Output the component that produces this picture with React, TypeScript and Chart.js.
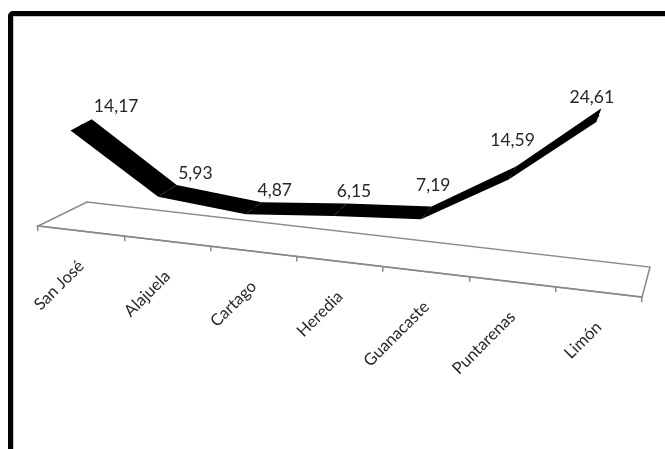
import React, { useEffect, useRef } from 'react';
import { Chart, registerables } from 'chart.js';

Chart.register(...registerables);

// ---- data ----
const categories = ['San José', 'Alajuela', 'Cartago', 'Heredia', 'Guanacaste', 'Puntarenas', 'Limón'];
const values = [14.17, 5.93, 4.87, 6.15, 7.19, 14.59, 24.61];
const yMin = -1.5;
const yMax = 28;

// ---- styling (3D look emulation) ----
const SHEAR = 0.118; // floor slope
const DEPTH_LEFT = [49, -29.8]; // floor depth vector at left end (unsheared frame)
const DEPTH_RIGHT = [8, -31.2]; // floor depth vector at right end
const RIBBON_FRAC = 0.46;
const FLOOR_COLOR = '#8a8a8a';
const TEXT_COLOR = '#262626';
const FONT = 'Lato';
const TICK_FONT_SIZE = 16.5;
const LABEL_ROTATION = 45;

const fmt = (v: number) => v.toFixed(2).replace('.', ',');

export default function App() {
  const ref = useRef<HTMLCanvasElement | null>(null);

  useEffect(() => {
    if (!ref.current) return;

    const depthAt = (chart: any, x: number) => {
      const xs = chart.scales.x;
      const t = (x - xs.left) / (xs.right - xs.left);
      return [
        DEPTH_LEFT[0] + (DEPTH_RIGHT[0] - DEPTH_LEFT[0]) * t,
        DEPTH_LEFT[1] + (DEPTH_RIGHT[1] - DEPTH_LEFT[1]) * t,
      ];
    };

    const shearPlugin = {
      id: 'shear3d',
      beforeDraw(chart: any) {
        const ctx = chart.ctx;
        ctx.save();
        ctx.transform(1, SHEAR, 0, 1, 0, -SHEAR * chart.chartArea.left);
      },
      beforeDatasetsDraw(chart: any) {
        const ctx = chart.ctx;
        const xs = chart.scales.x;
        const b = chart.chartArea.bottom;
        const L = xs.left;
        const R = xs.right;
        // floor
        ctx.save();
        ctx.strokeStyle = FLOOR_COLOR;
        ctx.lineWidth = 1.5;
        ctx.beginPath();
        ctx.moveTo(L, b);
        ctx.lineTo(R, b);
        ctx.lineTo(R + DEPTH_RIGHT[0], b + DEPTH_RIGHT[1]);
        ctx.lineTo(L + DEPTH_LEFT[0], b + DEPTH_LEFT[1]);
        ctx.closePath();
        ctx.stroke();
        ctx.restore();
        // ribbon (depth of the 3D line)
        const meta = chart.getDatasetMeta(0);
        const pts = meta.data.map((p: any) => ({ x: p.x, y: p.y }));
        const front = pts.map((p: any) => {
          const d = depthAt(chart, p.x);
          return [p.x - (d[0] * RIBBON_FRAC) / 2, p.y - (d[1] * RIBBON_FRAC) / 2];
        });
        const back = pts.map((p: any) => {
          const d = depthAt(chart, p.x);
          return [p.x + (d[0] * RIBBON_FRAC) / 2, p.y + (d[1] * RIBBON_FRAC) / 2];
        });
        ctx.save();
        ctx.fillStyle = '#000';
        for (let i = 0; i < pts.length - 1; i++) {
          ctx.beginPath();
          ctx.moveTo(front[i][0], front[i][1]);
          ctx.lineTo(front[i + 1][0], front[i + 1][1]);
          ctx.lineTo(back[i + 1][0], back[i + 1][1]);
          ctx.lineTo(back[i][0], back[i][1]);
          ctx.closePath();
          ctx.fill();
        }
        ctx.restore();
      },
      afterDraw(chart: any) {
        const ctx = chart.ctx;
        ctx.restore();
        const x0 = chart.chartArea.left;
        const xs = chart.scales.x;

        // category labels: positions from the x axis, drawn upright (not sheared)
        const items = xs.getLabelItems(chart.chartArea);
        ctx.save();
        ctx.fillStyle = TEXT_COLOR;
        ctx.font = `${TICK_FONT_SIZE}px ${FONT}`;
        ctx.textAlign = 'right';
        ctx.textBaseline = 'middle';
        items.forEach((item: any) => {
          const [tx, ty] = item.options.translation;
          ctx.save();
          ctx.translate(tx, ty + SHEAR * (tx - x0));
          ctx.rotate((-LABEL_ROTATION * Math.PI) / 180);
          ctx.fillText(String(item.label), 0, item.textOffset);
          ctx.restore();
        });
        ctx.restore();

        // data labels (lifted a bit more where the line rises afterwards)
        const meta = chart.getDatasetMeta(0);
        const sp = meta.data.map((p: any) => ({ x: p.x, y: p.y + SHEAR * (p.x - x0) }));
        ctx.save();
        ctx.fillStyle = TEXT_COLOR;
        ctx.font = `17.5px ${FONT}`;
        ctx.textAlign = 'center';
        ctx.textBaseline = 'middle';
        sp.forEach((p: any, i: number) => {
          const next = sp[i + 1];
          const rise = next ? Math.max(0, p.y - next.y) : 0;
          ctx.fillText(fmt(values[i]), p.x + 35 - 7 * i, p.y - 18 - 0.25 * rise);
        });
        ctx.restore();
      },
    };

    const chart = new Chart(ref.current, {
      type: 'line',
      data: {
        labels: categories,
        datasets: [
          {
            data: values,
            borderColor: '#000',
            borderWidth: 2,
            pointRadius: 0,
            tension: 0,
            clip: false as any,
          },
        ],
      },
      options: {
        responsive: false,
        animation: false,
        events: [],
        layout: { padding: { top: 26, bottom: 123, left: 38, right: 23 } },
        plugins: { legend: { display: false }, tooltip: { enabled: false } },
        scales: {
          x: {
            type: 'category',
            offset: true,
            grid: {
              display: true,
              offset: true,
              drawOnChartArea: false,
              drawTicks: true,
              tickLength: 5,
              color: FLOOR_COLOR,
              lineWidth: 1.5,
            },
            border: { display: true, color: FLOOR_COLOR, width: 1.5 },
            ticks: {
              autoSkip: false,
              minRotation: LABEL_ROTATION,
              maxRotation: LABEL_ROTATION,
              padding: 21,
              color: 'rgba(0,0,0,0)',
              font: { family: FONT, size: TICK_FONT_SIZE },
            },
            afterFit: (scale: any) => {
              scale.height = 100;
            },
          },
          y: {
            display: false,
            min: yMin,
            max: yMax,
          },
        },
      },
      plugins: [shearPlugin],
    });

    return () => chart.destroy();
  }, []);

  return (
    <div>
      <div
        style={{
          position: 'fixed',
          left: 8,
          top: 11,
          width: 720,
          height: 520,
          border: '5px solid #000',
          borderRadius: 5,
          boxSizing: 'border-box',
          boxShadow: 'inset 0 0 0 1px #c8c8c8',
        }}
      />
      <canvas
        ref={ref}
        width={665}
        height={449}
        style={{ position: 'fixed', left: 0, top: 0, width: 665, height: 449 }}
      />
    </div>
  );
}
